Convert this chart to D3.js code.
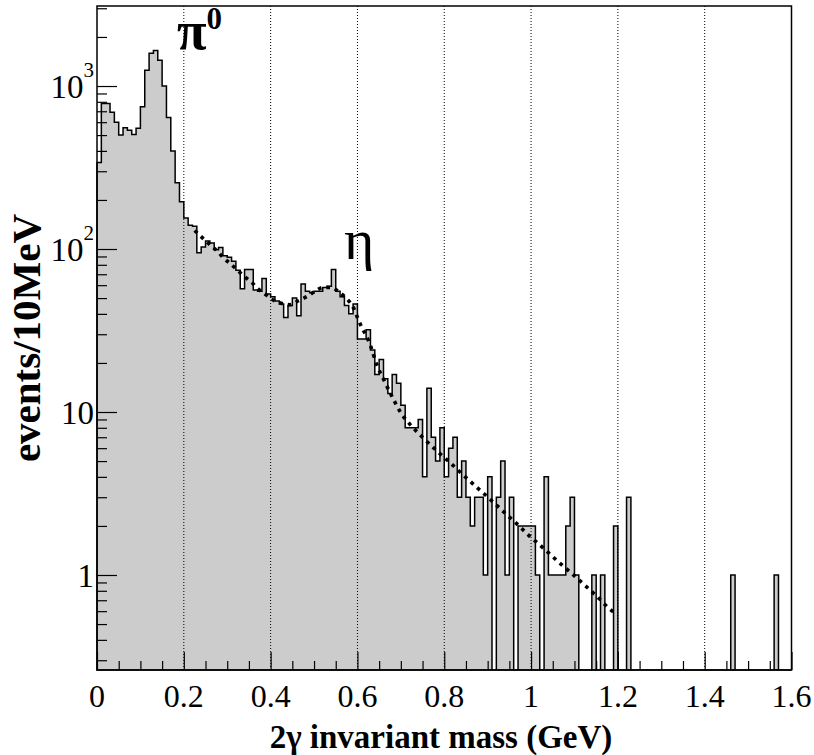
<!DOCTYPE html>
<html><head><meta charset="utf-8">
<script src="https://cdn.jsdelivr.net/npm/d3@7"></script>
<style>body{margin:0;background:#fff} svg{display:block}</style>
</head><body><svg id="c" width="814" height="755"></svg>
<script>
// ---- data ----
const binWidth = 0.01; // GeV (10 MeV)
const counts = [
 340,780,780,690,600,500,555,535,505,550,
 745,1250,1590,1650,1440,1000,640,400,255,195,
 155,140,138,95,103,112,109,99,102,91,
 89,84,74,57,75,75,56,55,66,53,
 51,48,46,38,45,50,39,61,55,54,
 55,55,58,59,75,55,51,45,40,46,
 28,28,32,24,17,21,16,13,17,15,
 11,8,8,8,9,4,14,7,5,8,
 4,6,7,3,5,3,2,3,3,1,
 4,0,3,5,1,3,0,2,2,2,
 2,1,0,4,1,1,1,1,2,3,
 1,0,0,0,1,0,1,0,0,2,
 0,0,3,0,0,0,0,0,0,0,
 0,0,0,0,0,0,0,0,0,0,
 0,0,0,0,0,0,1,0,0,0,
 0,0,0,0,0,0,1,0,0,0];
const fitMass  = [0.225,0.246,0.262,0.277,0.292,0.308,0.324,0.339,0.356,0.371,0.387,0.404,0.424,0.444,0.463,0.483,0.502,0.521,0.540,0.559,0.577,0.590,0.600,0.610,0.620,0.630,0.645,0.663,0.682,0.701,0.721,0.750,0.782,0.813,0.843,0.875,0.906,0.937,0.968,0.998,1.031,1.062,1.094,1.125,1.156,1.187,1.195];
const fitValue = [130,115,105,97,88,81,74,68,62.5,57,53,49,46.5,45.5,48,51,55,58,58,54,49,44,38,33,29.5,25.5,19.4,15.3,12.1,9.8,8.4,7.0,5.8,4.9,4.12,3.45,2.91,2.44,2.05,1.72,1.44,1.21,1.02,0.86,0.72,0.60,0.58];
const xTickValues = [0,0.2,0.4,0.6,0.8,1.0,1.2,1.4,1.6];
const xTickLabels = ["0","0.2","0.4","0.6","0.8","1","1.2","1.4","1.6"];
const gridValues = [0.2,0.4,0.6,0.8,1.0,1.2,1.4];
const yTickValues = [1,10,100,1000];
const yTickBase = ["1","10","10","10"];
const yTickExp  = ["","","2","3"];
const xTitle = "2γ invariant mass (GeV)";
const yTitle = "events/10MeV";

// ---- layout ----
const L = 97, R = 791.5, T = 6, B = 670;
const serif = "'Liberation Serif','Times New Roman',Times,serif";
const svg = d3.select("#c");
const x = d3.scaleLinear().domain([0, 1.6]).range([L, R]);
const y = d3.scaleLog().domain([0.2613, 3097]).range([B, T]);

// histogram (step area)
const pts = counts.map((c, i) => ({m: i * binWidth, c}));
pts.push({m: counts.length * binWidth, c: counts[counts.length - 1]});
const yv = c => c > 0 ? y(c) : B;
const area = d3.area().curve(d3.curveStepAfter)
  .x(d => x(d.m)).y0(B).y1(d => yv(d.c));
svg.append("path").datum(pts).attr("d", area)
  .attr("fill", "#cccccc").attr("stroke", "#000").attr("stroke-width", 1.5)
  .attr("stroke-linejoin", "miter");

// grid
svg.append("g").selectAll("line").data(gridValues).join("line")
  .attr("x1", d => x(d)).attr("x2", d => x(d)).attr("y1", T).attr("y2", B)
  .attr("stroke", "#000").attr("stroke-width", 1).attr("stroke-dasharray", "1 2");

// fit curve
const line = d3.line().curve(d3.curveMonotoneX).x((d, i) => x(fitMass[i])).y(d => y(d));
svg.append("path").datum(fitValue).attr("d", line)
  .attr("fill", "none").attr("stroke", "#000").attr("stroke-width", 3.6)
  .attr("stroke-dasharray", "3.6 5");

// x axis ticks (inside)
const xMinor = d3.range(0, 1.6001, 0.05).filter(v => Math.abs(v / 0.2 - Math.round(v / 0.2)) > 1e-6);
const gx1 = svg.append("g").attr("transform", `translate(0,${B})`)
  .call(d3.axisBottom(x).tickValues(xTickValues).tickSize(-18).tickFormat(""));
const gx2 = svg.append("g").attr("transform", `translate(0,${B})`)
  .call(d3.axisBottom(x).tickValues(xMinor).tickSize(-9).tickFormat(""));
// y axis ticks (inside)
const yMinor = [];
[0.1, 1, 10, 100, 1000].forEach(dec => { for (let k = 2; k <= 9; k++) { const v = dec * k; if (v >= 0.2613 && v <= 3097) yMinor.push(v); } });
const gy1 = svg.append("g").attr("transform", `translate(${L},0)`)
  .call(d3.axisLeft(y).tickValues(yTickValues).tickSize(-20).tickFormat(""));
const gy2 = svg.append("g").attr("transform", `translate(${L},0)`)
  .call(d3.axisLeft(y).tickValues(yMinor).tickSize(-10).tickFormat(""));
[gx1, gx2, gy1, gy2].forEach(g => {
  g.select(".domain").remove();
  g.selectAll("line").attr("stroke", "#000").attr("stroke-width", 1.2);
});

// frame
svg.append("rect").attr("x", L).attr("y", T).attr("width", R - L).attr("height", B - T)
  .attr("fill", "none").attr("stroke", "#000").attr("stroke-width", 1.5);

// x tick labels
svg.append("g").selectAll("text").data(xTickValues).join("text")
  .attr("x", d => x(d)).attr("y", 707).attr("text-anchor", "middle")
  .attr("font-family", serif).attr("font-size", 32)
  .text((d, i) => xTickLabels[i]);

// y tick labels
const yl = svg.append("g").selectAll("text").data(yTickValues).join("text")
  .attr("x", 94).attr("y", d => y(d) + 12).attr("text-anchor", "end")
  .attr("font-family", serif).attr("font-size", 33);
yl.append("tspan").text((d, i) => yTickBase[i]);
yl.append("tspan").attr("dy", -21).attr("font-size", 21).text((d, i) => yTickExp[i]);

// axis titles
svg.append("text").attr("x", 441).attr("y", 748).attr("text-anchor", "middle")
  .attr("font-family", serif).attr("font-weight", "bold").attr("font-size", 33).text(xTitle);
svg.append("text").attr("transform", "translate(40,338) rotate(-90)").attr("text-anchor", "middle")
  .attr("font-family", serif).attr("font-weight", "bold").attr("font-size", 41).text(yTitle);

// peak labels
const pi = svg.append("text").attr("x", 177).attr("y", 49)
  .attr("font-family", serif).attr("font-weight", "bold").attr("font-size", 54);
pi.append("tspan").text("π");
pi.append("tspan").attr("dy", -20).attr("font-size", 31).text("0");
svg.append("text").attr("x", 344).attr("y", 259)
  .attr("font-family", serif).attr("font-size", 58).text("η");
</script></body></html>
